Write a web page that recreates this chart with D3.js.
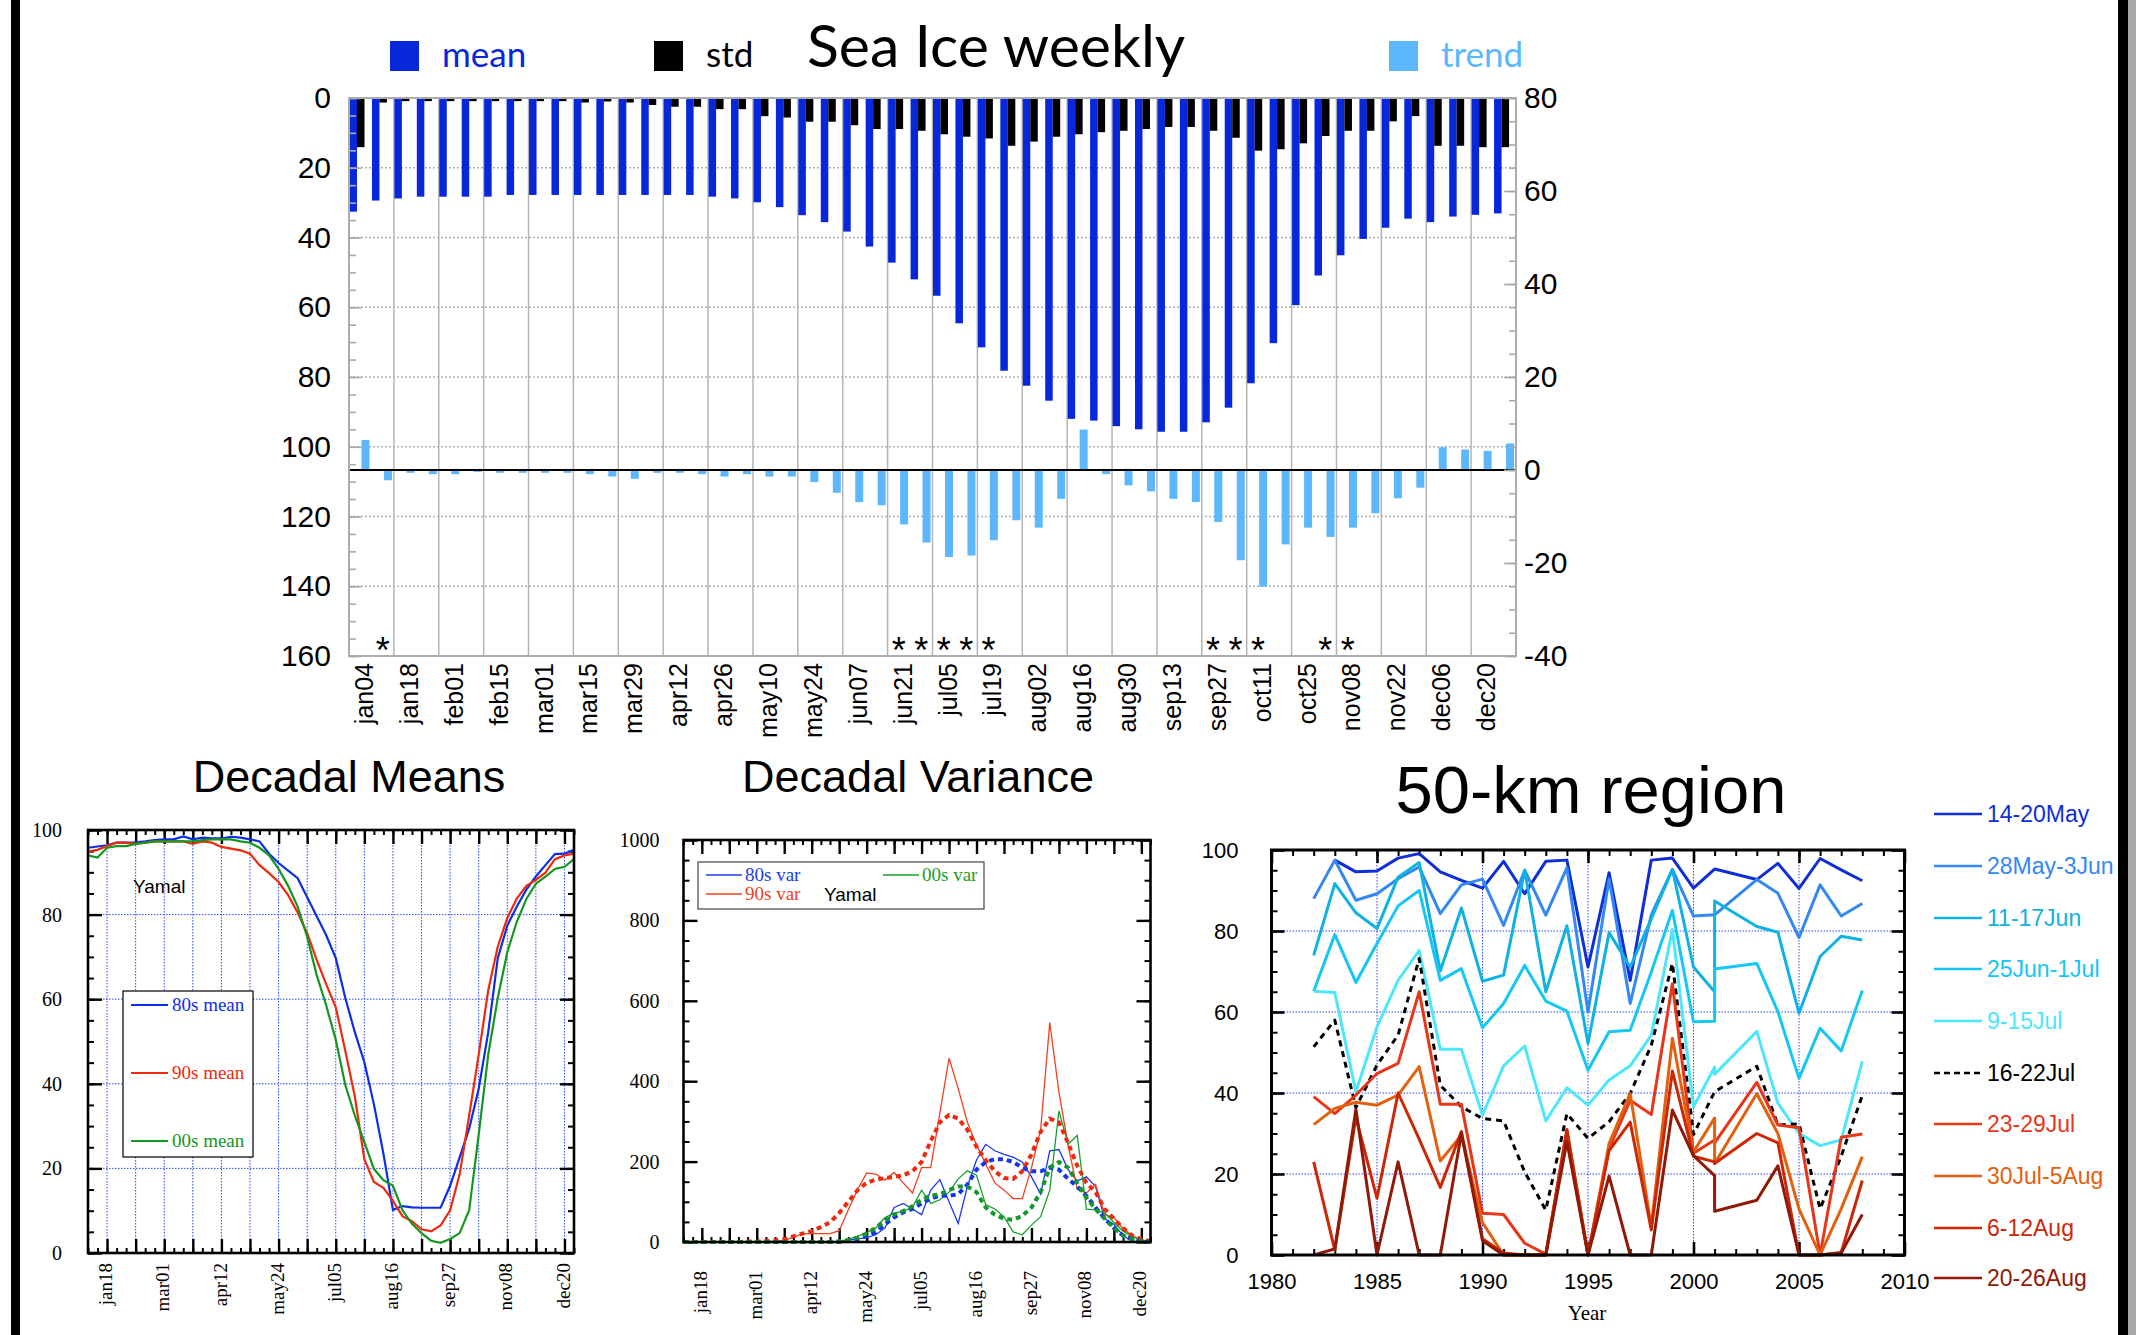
<!DOCTYPE html>
<html>
<head>
<meta charset="utf-8">
<script src="https://cdn.jsdelivr.net/npm/d3@7"></script>
<style>
  body { margin: 0; background: #fff; }
  svg { display: block; }
</style>
</head>
<body>
<svg id="fig" width="2136" height="1335"></svg>
<script>
// ---------------- Weekly sea-ice summary (52 weeks, Jan 4 .. Dec 27) ----------------
const weekLabels = ["jan04","jan18","feb01","feb15","mar01","mar15","mar29","apr12","apr26",
  "may10","may24","jun07","jun21","jul05","jul19","aug02","aug16","aug30","sep13","sep27",
  "oct11","oct25","nov08","nov22","dec06","dec20"];

const meanIce = [32.6,29.4,28.8,28.3,28.3,28.3,28.3,27.8,27.8,27.8,27.8,27.8,27.8,27.8,27.8,27.8,
  28.3,28.8,29.9,31.3,33.6,35.6,38.3,42.6,47.2,52.0,56.7,64.6,71.5,78.2,82.5,86.8,92.0,92.5,
  94.1,95.0,95.7,95.7,93.0,88.8,81.8,70.3,59.4,50.9,45.1,40.4,37.2,34.6,35.6,34.0,33.5,33.1];

const stdIce = [14.1,1.3,0.9,0.9,0.9,0.9,0.9,0.9,0.9,0.9,1.3,1.0,1.3,2.0,2.5,2.5,3.2,3.2,5.2,5.6,
  6.8,6.8,7.8,8.9,8.9,9.4,10.4,11.1,11.6,13.7,12.5,11.1,10.4,9.8,9.4,8.9,8.3,8.3,9.4,11.4,
  15.1,14.7,13.0,10.9,9.4,9.4,6.7,5.2,13.7,13.7,14.1,14.1];

const trendIce = [6.45,-2.2,-0.6,-0.9,-0.9,-0.4,-0.6,-0.6,-0.6,-0.6,-0.9,-1.4,-1.9,-0.6,-0.6,-0.9,
  -1.4,-0.9,-1.4,-1.4,-2.6,-4.9,-6.9,-7.6,-11.7,-15.6,-18.7,-18.4,-15.1,-10.8,-12.4,-6.2,8.7,
  -0.9,-3.3,-4.6,-6.2,-6.9,-11.2,-19.4,-25.1,-16.0,-12.4,-14.4,-12.4,-9.3,-6.1,-3.8,4.9,4.4,4.1,5.7];

// weeks whose trend is significant
const signifWeeks = [1,24,25,26,27,28,38,39,40,43,44];

// ---------------- Decadal means of concentration (%) ----------------
const mean80s = [95.8,96.1,96.4,97.0,97.0,97.1,97.3,97.6,97.8,97.8,98.5,97.8,98.2,98.0,98.0,98.4,
  98.2,97.8,97.3,94.4,92.2,90.4,88.6,84.1,79.6,75.1,69.7,60.3,52.2,45.1,35.2,23.5,10.2,11.1,
  10.8,10.7,10.7,10.7,15.9,22.6,29.4,38.8,52.2,69.7,77.4,81.9,85.9,89.0,91.7,94.3,94.4,95.3];
const mean90s = [94.9,95.3,96.2,97.0,97.0,96.7,97.0,97.3,97.3,97.3,97.3,96.7,97.3,97.0,96.0,95.6,
  95.2,94.4,91.7,89.8,87.7,84.6,80.5,75.6,69.3,63.5,58.1,47.8,37.0,22.2,16.8,15.4,12.3,8.7,
  7.5,5.6,5.1,6.5,10.1,18.6,32.5,46.9,62.1,72.4,79.2,83.8,86.8,88.2,89.9,93.1,94.0,94.4];
const mean00s = [94.0,93.5,95.8,96.2,96.2,96.7,97.0,97.3,97.3,97.3,97.3,97.3,97.6,97.8,97.8,97.8,
  97.3,97.0,95.8,94.0,90.8,86.8,81.9,74.7,65.7,58.5,50.4,39.7,32.5,26.2,19.9,17.2,15.9,10.1,
  6.9,4.7,2.9,2.4,3.3,4.7,10.1,28.0,46.9,60.3,71.1,78.3,83.7,87.3,89.0,90.8,91.3,93.1];

// ---------------- Decadal variance ----------------
const var80s = [0,0,0,0,0,0,0,0,0,0,0,0,0,0,0,0,0,1,5,8,11,18,35,86,96,82,68,129,155,100,46,138,
  204,243,227,218,211,199,162,119,227,230,180,152,162,138,58,44,16,2,0,0];
const var90s = [0,0,0,0,0,0,0,0,1,1,2,4,12,20,21,21,21,28,80,130,172,169,154,173,147,122,185,185,
  321,457,382,298,241,194,147,129,108,108,185,279,546,373,241,131,122,143,68,61,33,16,5,0];
const var00s = [0,0,0,0,0,0,0,0,0,0,0,0,0,0,0,0,0,1,7,14,23,35,61,72,77,86,129,96,105,124,157,
  177,166,93,82,63,25,18,42,63,129,326,243,265,82,80,72,49,27,14,5,0];
const var80sSmooth = [0,0,0,0,0,0,0,0,0,0,0,0,0,0,0,0,0,0,3,8,14,25,44,61,74,82,96,108,115,115,
  119,143,180,199,206,206,199,185,176,176,185,180,157,138,115,86,58,35,16,7,2,0];
const var90sSmooth = [0,0,0,0,0,0,0,1,1,2,4,7,14,21,27,37,49,72,100,129,147,155,159,162,166,176,
  199,251,298,316,307,279,237,204,176,159,157,176,218,274,307,298,246,190,147,124,82,58,35,16,7,2];
const var00sSmooth = [0,0,0,0,0,0,0,0,0,0,0,0,0,0,0,0,0,2,5,11,21,35,54,68,77,89,105,115,119,129,
  138,138,124,86,68,58,55,65,86,124,185,199,185,147,110,82,58,35,16,7,2,0];

// ---------------- 50-km region, yearly concentration by week ----------------
const kmYears = [1982,1983,1984,1985,1986,1987,1988,1989,1990,1991,1992,1993,1994,1995,1996,
  1997,1998,1999,2000,2001,2001,2003,2004,2005,2006,2007,2008];
const kmNames = ["14-20May","28May-3Jun","11-17Jun","25Jun-1Jul","9-15Jul","16-22Jul",
  "23-29Jul","30Jul-5Aug","6-12Aug","20-26Aug"];
const kmMay14 = [null,97.5,94.6,94.8,98.0,99.1,94.6,92.5,90.6,97.2,89.2,97.2,97.5,71.1,94.4,67.8,
  97.5,98.0,90.6,95.3,95.3,92.7,96.7,90.5,97.9,95.1,92.4];
const kmMay28 = [88.0,97.5,87.6,89.2,92.9,95.8,84.3,91.4,92.8,81.4,95.0,83.9,95.6,60.0,92.9,62.1,
  84.0,95.2,83.7,84.0,84.0,92.7,89.3,78.4,91.4,83.7,86.8];
const kmJun11 = [74.0,91.7,84.5,80.6,93.3,96.9,70.1,85.7,67.6,69.1,95.0,65.0,81.3,52.2,79.6,71.1,
  83.0,95.2,71.1,65.0,87.4,81.1,79.7,59.7,73.7,78.7,77.8];
const kmJun25 = [65.1,79.1,67.3,76.9,86.2,90.0,67.8,70.7,56.1,62.1,71.5,62.7,60.2,45.6,55.1,55.5,
  69.9,85.1,57.6,57.7,70.6,72.0,60.1,43.6,56.0,50.4,65.3];
const kmJul09 = [65.1,64.8,40.3,56.3,67.8,75.2,50.8,50.8,34.5,46.7,51.6,33.1,41.3,37.0,43.2,46.7,
  54.3,80.4,36.6,46.4,44.6,55.2,37.5,30.0,27.0,28.4,47.8];
const kmJul16 = [51.4,58.0,36.4,46.9,54.3,73.2,41.9,36.6,33.7,33.1,20.5,11.1,34.9,28.8,32.9,39.9,
  51.8,72.0,29.8,40.3,40.3,46.6,32.1,32.4,11.4,24.4,39.4];
const kmJul23 = [39.1,34.9,39.5,44.8,47.3,65.0,37.2,37.2,10.3,10.0,2.9,0.2,30.8,0,26.3,38.2,
  34.7,67.0,25.1,28.4,27.7,42.6,32.1,31.4,0,29.1,29.9];
const kmJul30 = [32.2,36.2,37.7,37.0,39.5,46.5,23.2,29.6,8.0,0,0,0,29.6,0,27.5,39.9,
  7.0,53.5,25.5,33.8,22.6,39.8,30.0,11.4,0,11.4,24.3];
const kmAug06 = [23.0,1.2,34.0,14.0,40.0,28.6,16.7,30.5,4.0,0.5,0,0,31.0,0,25.8,32.8,
  6.2,45.4,24.4,23.0,22.6,30.0,27.7,0,0,0.6,18.4];
const kmAug20 = [0,1.5,36.0,0,23.0,0,0,30.0,3.5,0,0,0,28.0,0,19.5,0,
  0,35.8,24.5,19.6,10.8,13.5,22.0,0,0,0.5,10.0];

// ---------------- drawing ----------------
const SANS = "'Liberation Sans', Arial, Helvetica, sans-serif";
const SERIF = "'Liberation Serif', 'Times New Roman', serif";
const DISPLAY = "Lato, 'Liberation Sans', sans-serif";
const MEAN_C = "#0827da", TREND_C = "#5cb8fc";
const plain = d => String(d);   // hyphen-minus, no thousands separator

const svg = d3.select("#fig");
svg.append("rect").attr("width", 2136).attr("height", 1335).attr("fill", "#fff");

// page side rules
svg.append("rect").attr("x", 11).attr("y", 0).attr("width", 9).attr("height", 1335).attr("fill", "#000");
svg.append("rect").attr("x", 2118).attr("y", 0).attr("width", 10).attr("height", 1335).attr("fill", "#000");
svg.append("rect").attr("x", 2128).attr("y", 0).attr("width", 8).attr("height", 1335).attr("fill", "#a8a8a8");

// ===== Sea Ice weekly =====
const wk = d3.range(52);
const xWeek = d3.scaleBand().domain(wk).range([349, 1516]);
const yMean = d3.scaleLinear().domain([0, 160]).range([98, 656]);
const yTrend = d3.scaleLinear().domain([-40, 80]).range([656, 98]);
const gTop = svg.append("g");

gTop.selectAll("line.hg").data(d3.range(20, 160, 20)).join("line")
  .attr("x1", 349).attr("x2", 1516)
  .attr("y1", d => yMean(d)).attr("y2", d => yMean(d))
  .attr("stroke", "#b0b0b0").attr("stroke-width", 1.5).attr("stroke-dasharray", "2,2");
gTop.selectAll("line.vg").data(d3.range(2, 52, 2)).join("line")
  .attr("x1", d => xWeek(d)).attr("x2", d => xWeek(d))
  .attr("y1", 98).attr("y2", 656)
  .attr("stroke", "#b4b4b4").attr("stroke-width", 1.5);

gTop.selectAll("rect.mean").data(meanIce).join("rect")
  .attr("x", (d, i) => xWeek(i) + 0.5).attr("width", 7.5)
  .attr("y", yMean(0)).attr("height", d => yMean(d) - yMean(0))
  .attr("fill", MEAN_C);
gTop.selectAll("rect.std").data(stdIce).join("rect")
  .attr("x", (d, i) => xWeek(i) + 8).attr("width", 7.5)
  .attr("y", yMean(0)).attr("height", d => yMean(d) - yMean(0))
  .attr("fill", "#000");
gTop.selectAll("rect.trend").data(trendIce).join("rect")
  .attr("x", (d, i) => xWeek(i) + 12.5).attr("width", 8)
  .attr("y", d => yTrend(Math.max(d, 0)))
  .attr("height", d => Math.abs(yTrend(d) - yTrend(0)))
  .attr("fill", TREND_C);

gTop.append("line").attr("x1", 349).attr("x2", 1516)
  .attr("y1", yTrend(0)).attr("y2", yTrend(0))
  .attr("stroke", "#000").attr("stroke-width", 2);
gTop.append("rect").attr("x", 349).attr("y", 98).attr("width", 1167).attr("height", 558)
  .attr("fill", "none").attr("stroke", "#acacac").attr("stroke-width", 2);

function styleAxis(g, color, font, size) {
  g.select(".domain").remove();
  g.selectAll(".tick line").attr("stroke", color).attr("stroke-width", 1.6);
  g.selectAll(".tick text").attr("font-family", font).attr("font-size", size).attr("fill", "#000");
}
gTop.append("g").attr("transform", "translate(349,0)")
  .call(d3.axisLeft(yMean).tickValues(d3.range(0, 161, 5)).tickSize(-7).tickFormat(""))
  .call(g => styleAxis(g, "#aaa", SANS, 30));
gTop.append("g").attr("transform", "translate(349,0)")
  .call(d3.axisLeft(yMean).tickValues(d3.range(0, 161, 20)).tickSize(-12).tickPadding(18).tickFormat(plain))
  .call(g => styleAxis(g, "#aaa", SANS, 30));
gTop.append("g").attr("transform", "translate(1516,0)")
  .call(d3.axisRight(yTrend).tickValues(d3.range(-40, 81, 5)).tickSize(-7).tickFormat(""))
  .call(g => styleAxis(g, "#aaa", SANS, 30));
gTop.append("g").attr("transform", "translate(1516,0)")
  .call(d3.axisRight(yTrend).tickValues(d3.range(-40, 81, 20)).tickSize(-12).tickPadding(8).tickFormat(plain))
  .call(g => styleAxis(g, "#aaa", SANS, 30));

gTop.selectAll("text.xl").data(weekLabels).join("text")
  .attr("transform", (d, i) => `translate(${xWeek(2 * i) + 15},663) rotate(-90)`)
  .attr("text-anchor", "end").attr("dy", "0.36em")
  .attr("font-family", SANS).attr("font-size", 25).text(d => d);

gTop.selectAll("text.star").data(signifWeeks).join("text")
  .attr("x", d => xWeek(d) + xWeek.bandwidth() / 2).attr("y", 663)
  .attr("text-anchor", "middle").attr("font-family", SANS).attr("font-size", 36)
  .text("*");

// legend + title
const topLegend = [
  { label: "mean", color: MEAN_C, x: 390 },
  { label: "std", color: "#000", x: 654 },
  { label: "trend", color: TREND_C, x: 1389 }
];
topLegend.forEach(l => {
  gTop.append("rect").attr("x", l.x).attr("y", 41).attr("width", 29).attr("height", 30).attr("fill", l.color);
  gTop.append("text").attr("x", l.x + 52).attr("y", 67).attr("font-family", DISPLAY)
    .attr("font-size", 35).attr("fill", l.color).text(l.label);
});
gTop.append("text").attr("x", 807).attr("y", 67).attr("font-family", DISPLAY)
  .attr("font-size", 59).attr("fill", "#000").text("Sea Ice weekly");

// ===== helpers for the boxed panels =====
function inwardTicks(g, x, y, xVals, xLen, yVals, yLen, w) {
  const [xa, xb] = x.range(), [yb, ya] = y.range();
  const put = (axis, tr) => g.append("g").attr("transform", tr).call(axis)
    .call(s => { s.select(".domain").remove();
                 s.selectAll(".tick line").attr("stroke", "#000").attr("stroke-width", w); });
  put(d3.axisBottom(x).tickValues(xVals).tickSize(-xLen).tickFormat(""), `translate(0,${yb})`);
  put(d3.axisTop(x).tickValues(xVals).tickSize(-xLen).tickFormat(""), `translate(0,${ya})`);
  put(d3.axisLeft(y).tickValues(yVals).tickSize(-yLen).tickFormat(""), `translate(${xa},0)`);
  put(d3.axisRight(y).tickValues(yVals).tickSize(-yLen).tickFormat(""), `translate(${xb},0)`);
}
function frame(g, x, y, w) {
  const [xa, xb] = x.range(), [yb, ya] = y.range();
  g.append("rect").attr("x", xa).attr("y", ya).attr("width", xb - xa).attr("height", yb - ya)
    .attr("fill", "none").attr("stroke", "#000").attr("stroke-width", w);
}
const decadalLabelWeeks = d3.range(2, 51, 6);
function weekAxisLabels(g, x, yTopOfText) {
  g.selectAll("text.wl").data(decadalLabelWeeks).join("text")
    .attr("transform", d => `translate(${x(d) - 1},${yTopOfText}) rotate(-90)`)
    .attr("text-anchor", "end").attr("dy", "0.32em")
    .attr("font-family", SERIF).attr("font-size", 19)
    .text(d => weekLabels[d / 2]);
}

// ===== Decadal Means =====
const gM = svg.append("g");
const xM = d3.scaleLinear().domain([0, 51]).range([88, 574]);
const yM = d3.scaleLinear().domain([0, 100]).range([1253, 830]);
gM.append("text").attr("x", 349).attr("y", 792).attr("text-anchor", "middle")
  .attr("font-family", SANS).attr("font-size", 45).text("Decadal Means");
gM.selectAll("line.gx").data(d3.range(2, 51, 3)).join("line")
  .attr("x1", d => xM(d)).attr("x2", d => xM(d)).attr("y1", 830).attr("y2", 1253)
  .attr("stroke", "#2a48ff").attr("stroke-width", 1).attr("stroke-dasharray", "1.5,1.5");
gM.selectAll("line.gy").data([20, 40, 60, 80]).join("line")
  .attr("x1", 88).attr("x2", 574).attr("y1", d => yM(d)).attr("y2", d => yM(d))
  .attr("stroke", "#2a48ff").attr("stroke-width", 1).attr("stroke-dasharray", "1.5,1.5");
inwardTicks(gM, xM, yM, d3.range(0, 52), 5, d3.range(0, 101, 5), 6, 2);
inwardTicks(gM, xM, yM, d3.range(2, 51, 3), 14, d3.range(0, 101, 20), 14, 2.4);
const lineM = d3.line().x((d, i) => xM(i)).y(d => yM(d));
[[mean80s, "#0d2ee8"], [mean90s, "#ee2a0c"], [mean00s, "#15961f"]].forEach(([s, c]) => {
  gM.append("path").attr("d", lineM(s)).attr("fill", "none").attr("stroke", c).attr("stroke-width", 2.2);
});
frame(gM, xM, yM, 2.6);
gM.append("g").attr("transform", "translate(88,0)")
  .call(d3.axisLeft(yM).tickValues(d3.range(0, 101, 20)).tickSize(0).tickPadding(26).tickFormat(plain))
  .call(g => styleAxis(g, "#000", SERIF, 20));
weekAxisLabels(gM, xM, 1263);
gM.append("text").attr("x", 133).attr("y", 886).attr("dy", "0.35em")
  .attr("font-family", SANS).attr("font-size", 19).text("Yamal");
gM.append("rect").attr("x", 123).attr("y", 991).attr("width", 130).attr("height", 166)
  .attr("fill", "#fff").attr("stroke", "#000").attr("stroke-width", 1.2);
[["80s mean", "#0d2ee8", 1005], ["90s mean", "#ee2a0c", 1073], ["00s mean", "#15961f", 1141]]
  .forEach(([t, c, yy]) => {
    gM.append("line").attr("x1", 131).attr("x2", 168).attr("y1", yy).attr("y2", yy)
      .attr("stroke", c).attr("stroke-width", 2.2);
    gM.append("text").attr("x", 172).attr("y", yy).attr("dy", "0.33em")
      .attr("font-family", SERIF).attr("font-size", 19).attr("fill", c).text(t);
  });

// ===== Decadal Variance =====
const gV = svg.append("g");
const xV = d3.scaleLinear().domain([0, 51]).range([683.5, 1150.5]);
const yV = d3.scaleLinear().domain([0, 1000]).range([1242, 840]);
gV.append("text").attr("x", 918).attr("y", 792).attr("text-anchor", "middle")
  .attr("font-family", SANS).attr("font-size", 45).text("Decadal Variance");
inwardTicks(gV, xV, yV, d3.range(0, 52), 5, d3.range(0, 1001, 50), 6, 2);
inwardTicks(gV, xV, yV, d3.range(2, 51, 3), 14, d3.range(0, 1001, 200), 14, 2.4);
const lineV = d3.line().x((d, i) => xV(i)).y(d => yV(d));
[[var80s, "#1a3af0"], [var90s, "#f0401e"], [var00s, "#16a02a"]].forEach(([s, c]) => {
  gV.append("path").attr("d", lineV(s)).attr("fill", "none").attr("stroke", c).attr("stroke-width", 1.3);
});
[[var90sSmooth, "#ec2a0e"], [var80sSmooth, "#1436e8"], [var00sSmooth, "#14962a"]].forEach(([s, c]) => {
  gV.append("path").attr("d", lineV(s)).attr("fill", "none").attr("stroke", c)
    .attr("stroke-width", 4).attr("stroke-dasharray", "5,4");
});
frame(gV, xV, yV, 2.6);
gV.append("g").attr("transform", "translate(683.5,0)")
  .call(d3.axisLeft(yV).tickValues(d3.range(0, 1001, 200)).tickSize(0).tickPadding(24).tickFormat(plain))
  .call(g => styleAxis(g, "#000", SERIF, 20));
weekAxisLabels(gV, xV, 1271);
gV.append("rect").attr("x", 698).attr("y", 862).attr("width", 286).attr("height", 47)
  .attr("fill", "#fff").attr("stroke", "#444").attr("stroke-width", 1.2);
[["80s var", "#1a3af0", 706, 875], ["90s var", "#f0401e", 706, 894], ["00s var", "#16a02a", 883, 875]]
  .forEach(([t, c, xx, yy]) => {
    gV.append("line").attr("x1", xx).attr("x2", xx + 36).attr("y1", yy).attr("y2", yy)
      .attr("stroke", c).attr("stroke-width", 1.3);
    gV.append("text").attr("x", xx + 39).attr("y", yy).attr("dy", "0.33em")
      .attr("font-family", SERIF).attr("font-size", 19).attr("fill", c).text(t);
  });
gV.append("text").attr("x", 824).attr("y", 894).attr("dy", "0.35em")
  .attr("font-family", SANS).attr("font-size", 19).text("Yamal");

// ===== 50-km region =====
const gK = svg.append("g");
const xK = d3.scaleLinear().domain([1980, 2010]).range([1271.5, 1904.5]);
const yK = d3.scaleLinear().domain([0, 100]).range([1255, 850]);
gK.append("text").attr("x", 1591).attr("y", 813).attr("text-anchor", "middle")
  .attr("font-family", SANS).attr("font-size", 67).text("50-km region");
gK.selectAll("line.gx").data(d3.range(1985, 2006, 5)).join("line")
  .attr("x1", d => xK(d)).attr("x2", d => xK(d)).attr("y1", 850).attr("y2", 1255)
  .attr("stroke", "#2a48ff").attr("stroke-width", 1).attr("stroke-dasharray", "1.5,1.5");
gK.selectAll("line.gy").data([20, 40, 60, 80]).join("line")
  .attr("x1", 1271.5).attr("x2", 1904.5).attr("y1", d => yK(d)).attr("y2", d => yK(d))
  .attr("stroke", "#2a48ff").attr("stroke-width", 1).attr("stroke-dasharray", "1.5,1.5");
inwardTicks(gK, xK, yK, d3.range(1980, 2011), 6, d3.range(0, 101, 5), 6, 2);
inwardTicks(gK, xK, yK, d3.range(1980, 2011, 5), 13, d3.range(0, 101, 20), 13, 2.6);

const kmSeries = [kmMay14, kmMay28, kmJun11, kmJun25, kmJul09, kmJul16, kmJul23, kmJul30, kmAug06, kmAug20];
const kmColors = ["#0f2ed6", "#3388f2", "#10b2e2", "#16c6f4", "#4ee6fa", "#000",
  "#e8361a", "#e2600e", "#cc2808", "#8f1a08"];
const lineK = d3.line().defined(d => d != null).x((d, i) => xK(kmYears[i])).y(d => yK(d));
kmSeries.forEach((s, k) => {
  gK.append("path").attr("d", lineK(s)).attr("fill", "none").attr("stroke", kmColors[k])
    .attr("stroke-width", 3).attr("stroke-linejoin", "round")
    .attr("stroke-dasharray", kmNames[k] === "16-22Jul" ? "6,5" : null);
});
frame(gK, xK, yK, 3);
gK.append("g").attr("transform", "translate(1271.5,0)")
  .call(d3.axisLeft(yK).tickValues(d3.range(0, 101, 20)).tickSize(0).tickPadding(33).tickFormat(plain))
  .call(g => styleAxis(g, "#000", SANS, 22));
gK.append("g").attr("transform", "translate(0,1255)")
  .call(d3.axisBottom(xK).tickValues(d3.range(1980, 2011, 5)).tickSize(0).tickPadding(18).tickFormat(plain))
  .call(g => styleAxis(g, "#000", SANS, 22));
gK.append("text").attr("x", 1587).attr("y", 1320).attr("text-anchor", "middle")
  .attr("font-family", SERIF).attr("font-size", 21).text("Year");

const kmLegendY = [814, 866, 918, 969, 1021, 1073, 1124, 1176, 1228, 1278];
kmNames.forEach((n, k) => {
  gK.append("line").attr("x1", 1934).attr("x2", 1982).attr("y1", kmLegendY[k]).attr("y2", kmLegendY[k])
    .attr("stroke", kmColors[k]).attr("stroke-width", 2.4)
    .attr("stroke-dasharray", n === "16-22Jul" ? "6,4" : null);
  gK.append("text").attr("x", 1987).attr("y", kmLegendY[k]).attr("dy", "0.35em")
    .attr("font-family", SANS).attr("font-size", 23).attr("fill", kmColors[k]).text(n);
});
</script>
</body>
</html>
